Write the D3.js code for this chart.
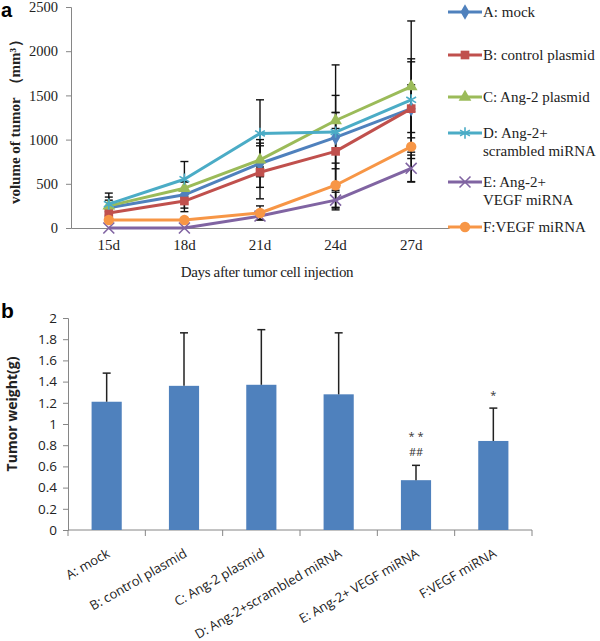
<!DOCTYPE html>
<html>
<head>
<meta charset="utf-8">
<script src="https://cdn.jsdelivr.net/npm/d3@7"></script>
<style>
  body { margin: 0; background: #fff; }
  svg { display: block; }
</style>
</head>
<body>
<svg id="chart" width="600" height="641"></svg>
<script>
// ---- panel a data: tumor volume over time ----
const days = ["15d", "18d", "21d", "24d", "27d"];
const groupNames = ["A: mock", "B: control plasmid", "C: Ang-2 plasmid", "D: Ang-2+ scrambled miRNA", "E: Ang-2+ VEGF miRNA", "F:VEGF miRNA"];
const legendLines = [["A: mock"], ["B: control plasmid"], ["C: Ang-2 plasmid"], ["D: Ang-2+", "scrambled miRNA"], ["E: Ang-2+", "VEGF miRNA"], ["F:VEGF miRNA"]];
const volMock     = [230, 375, 730, 1025, 1350];
const volControl  = [170, 305, 630, 867, 1350];
const volAng2     = [250, 450, 770, 1216, 1600];
const volScramble = [270, 552, 1070, 1085, 1450];
const volVegfAng2 = [0, 0, 135, 315, 675];
const volVegf     = [90, 90, 170, 484, 920];
const errMock     = [120, 150, 270, 820, 270];
const errControl  = [40, 120, 300, 440, 564];
const errAng2     = [65, 70, 190, 90, 742];
const errScramble = [125, 200, 380, 415, 430];
const errVegfAng2 = [0, 0, 40, 90, 150];
const errVegf     = [0, 0, 80, 250, 400];
const volTicks = [0, 500, 1000, 1500, 2000, 2500];

// ---- panel b data: tumor weight ----
const weightGroups = ["A: mock", "B: control plasmid", "C: Ang-2 plasmid", "D: Ang-2+scrambled miRNA", "E: Ang-2+ VEGF miRNA", "F:VEGF miRNA"];
const weights   = [1.21, 1.36, 1.37, 1.28, 0.47, 0.84];
const weightErr = [0.27, 0.50, 0.52, 0.58, 0.14, 0.31];
const weightMarks = [[], [], [], [], ["* *", "##"], ["*"]];
const weightTicks = [0, 0.2, 0.4, 0.6, 0.8, 1, 1.2, 1.4, 1.6, 1.8, 2];

const colors = ["#4F81BD", "#C0504D", "#9BBB59", "#4BACC6", "#8064A2", "#F79646"];
const symbols = [d3.symbolDiamond, d3.symbolSquare, d3.symbolTriangle, d3.symbolAsterisk, d3.symbolX, d3.symbolCircle];
const symbolSizes = [70, 75, 70, 90, 80, 85];
const strokeSymbols = [false, false, false, true, true, false];

const volumes = [volMock, volControl, volAng2, volScramble, volVegfAng2, volVegf];
const errors = [errMock, errControl, errAng2, errScramble, errVegfAng2, errVegf];
const series = groupNames.map((name, i) => ({
  name, i,
  points: days.map((d, j) => ({ day: d, v: volumes[i][j], e: errors[i][j] }))
}));

const svg = d3.select("#chart");
const serif = "'Liberation Serif', 'Times New Roman', serif";
const sans = "'Open Sans', 'Liberation Sans', sans-serif";
const axisGrey = "#868686";

// ================= panel a =================
const xA = d3.scaleBand().domain(days).range([71, 449]);
const yA = d3.scaleLinear().domain([0, 2500]).range([228, 7]);
const gA = svg.append("g");

gA.append("text").attr("x", 1).attr("y", 17)
  .attr("font-family", "'Liberation Sans', Arial, sans-serif")
  .attr("font-weight", "bold").attr("font-size", 20).text("a");

const yAxisA = gA.append("g").attr("transform", "translate(71,0)")
  .call(d3.axisLeft(yA).tickValues(volTicks).tickSize(5).tickPadding(8).tickFormat(d3.format("d")));
yAxisA.select(".domain").attr("stroke", axisGrey);
yAxisA.selectAll(".tick line").attr("stroke", axisGrey);
yAxisA.selectAll("text").attr("font-family", serif).attr("font-size", 14.5).attr("fill", "#222");

const xAxisA = gA.append("g").attr("transform", "translate(0,228)")
  .call(d3.axisBottom(xA).tickSize(0).tickPadding(11));
xAxisA.select(".domain").attr("stroke", axisGrey);
xAxisA.selectAll("text").attr("font-family", serif).attr("font-size", 15).attr("fill", "#222");

gA.append("text").attr("x", 267).attr("y", 277).attr("text-anchor", "middle")
  .attr("font-family", serif).attr("font-size", 15).attr("letter-spacing", -0.35)
  .attr("fill", "#222").text("Days after tumor cell injection");

const yLabelA = gA.append("text").attr("transform", "translate(20,118) rotate(-90)")
  .attr("text-anchor", "middle").attr("font-family", serif).attr("font-weight", "bold")
  .attr("font-size", 15).attr("fill", "#222");
yLabelA.append("tspan").text("volume of tumor");
yLabelA.append("tspan").attr("dx", 5).text("（");
yLabelA.append("tspan").text("mm³");
yLabelA.append("tspan").attr("dx", 1).text("）");

const cx = d => xA(d) + xA.bandwidth() / 2;

// error bars
const errG = gA.append("g").attr("stroke", "#111").attr("stroke-width", 1.4);
series.forEach(s => {
  s.points.filter(p => p.e > 0).forEach(p => {
    const x = cx(p.day), y1 = yA(p.v + p.e), y0 = yA(Math.max(0, p.v - p.e));
    errG.append("line").attr("x1", x).attr("x2", x).attr("y1", y1).attr("y2", y0);
    errG.append("line").attr("x1", x - 4).attr("x2", x + 4).attr("y1", y1).attr("y2", y1);
    errG.append("line").attr("x1", x - 4).attr("x2", x + 4).attr("y1", y0).attr("y2", y0);
  });
});

const line = d3.line().x(p => cx(p.day)).y(p => yA(p.v));
series.forEach(s => {
  gA.append("path").datum(s.points).attr("d", line)
    .attr("fill", "none").attr("stroke", colors[s.i]).attr("stroke-width", 3)
    .attr("stroke-linejoin", "round");
  gA.selectAll(null).data(s.points).join("path")
    .attr("transform", p => `translate(${cx(p.day)},${yA(p.v)})`)
    .attr("d", d3.symbol(symbols[s.i], symbolSizes[s.i]))
    .attr("fill", strokeSymbols[s.i] ? "none" : colors[s.i])
    .attr("stroke", strokeSymbols[s.i] ? colors[s.i] : "none")
    .attr("stroke-width", 1.6);
});

// legend
const legendY = [12, 55, 97, 133, 182, 227];
const legend = gA.append("g");
legendLines.forEach((lines, i) => {
  const y = legendY[i];
  legend.append("line").attr("x1", 448).attr("x2", 482).attr("y1", y).attr("y2", y)
    .attr("stroke", colors[i]).attr("stroke-width", 3);
  legend.append("path").attr("transform", `translate(465,${y})`)
    .attr("d", d3.symbol(symbols[i], symbolSizes[i]))
    .attr("fill", strokeSymbols[i] ? "none" : colors[i])
    .attr("stroke", strokeSymbols[i] ? colors[i] : "none").attr("stroke-width", 1.6);
  lines.forEach((t, k) => {
    legend.append("text").attr("x", 483).attr("y", y + k * 18)
      .attr("dominant-baseline", "central").attr("font-family", serif)
      .attr("font-size", 15).attr("fill", "#222").text(t);
  });
});

// ================= panel b =================
const xB = d3.scaleBand().domain(weightGroups).range([68, 532]).paddingInner(0.61).paddingOuter(0.305);
const yB = d3.scaleLinear().domain([0, 2]).range([530, 318]);
const gB = svg.append("g");

gB.append("text").attr("x", 1).attr("y", 318)
  .attr("font-family", "'Liberation Sans', Arial, sans-serif")
  .attr("font-weight", "bold").attr("font-size", 21).text("b");

const yAxisB = gB.append("g").attr("transform", "translate(68,0)")
  .call(d3.axisLeft(yB).tickValues(weightTicks).tickSize(5).tickPadding(6).tickFormat(d => String(+d.toFixed(1))));
yAxisB.select(".domain").attr("stroke", axisGrey);
yAxisB.selectAll(".tick line").attr("stroke", axisGrey);
yAxisB.selectAll("text").attr("font-family", sans).attr("font-size", 13.5).attr("fill", "#222");

gB.append("text").attr("transform", "translate(17,414) rotate(-90)")
  .attr("text-anchor", "middle").attr("font-family", sans).attr("font-weight", "bold")
  .attr("font-size", 14).attr("fill", "#222").text("Tumor weight(g)");

// x axis line with tick marks at category boundaries
const step = xB.step();
const bounds = d3.range(weightGroups.length + 1).map(k => 68 + k * step);
gB.append("line").attr("x1", 68).attr("x2", 532).attr("y1", 530).attr("y2", 530).attr("stroke", axisGrey);
gB.selectAll(null).data(bounds).join("line")
  .attr("x1", d => d).attr("x2", d => d).attr("y1", 530).attr("y2", 536).attr("stroke", axisGrey);

gB.selectAll(null).data(weightGroups).join("text")
  .attr("transform", d => `translate(${xB(d) + xB.bandwidth() / 2 + 4},${556}) rotate(-30)`)
  .attr("text-anchor", "end").attr("font-family", sans).attr("font-size", 13)
  .attr("fill", "#222").text(d => d);

const bw = xB.bandwidth();
gB.selectAll(null).data(weightGroups).join("rect")
  .attr("x", d => xB(d)).attr("width", bw)
  .attr("y", (d, i) => yB(weights[i])).attr("height", (d, i) => 530 - yB(weights[i]))
  .attr("fill", "#4F81BD");

const errB = gB.append("g").attr("stroke", "#222").attr("stroke-width", 1.5);
weightGroups.forEach((d, i) => {
  const x = xB(d) + bw / 2, y0 = yB(weights[i]), y1 = yB(weights[i] + weightErr[i]);
  errB.append("line").attr("x1", x).attr("x2", x).attr("y1", y0).attr("y2", y1);
  errB.append("line").attr("x1", x - 4).attr("x2", x + 4).attr("y1", y1).attr("y2", y1);
  weightMarks[i].forEach((m, k, arr) => {
    gB.append("text").attr("x", x).attr("y", y1 - 9 - (arr.length - 1 - k) * 16)
      .attr("text-anchor", "middle").attr("font-family", sans).attr("font-size", 11)
      .attr("fill", "#333").text(m);
  });
});
</script>
</body>
</html>
